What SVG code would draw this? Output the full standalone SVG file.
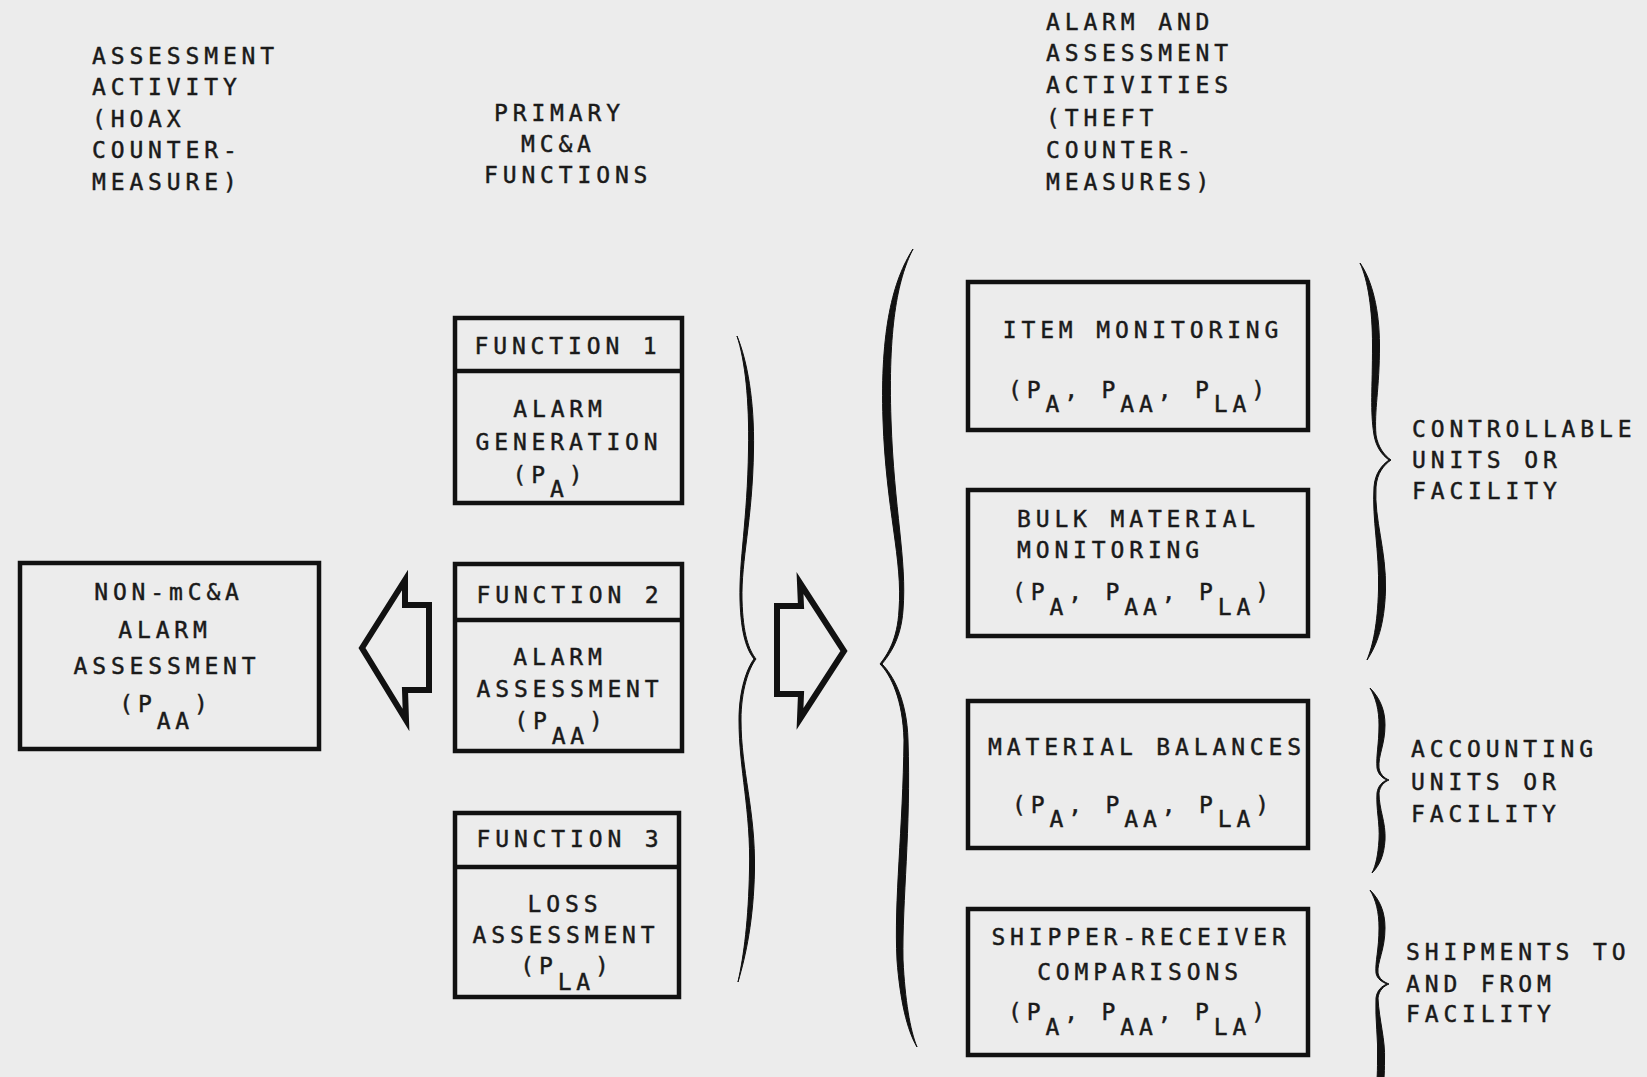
<svg xmlns="http://www.w3.org/2000/svg" width="1647" height="1077" viewBox="0 0 1647 1077">
<style>
.t{font-family:"DejaVu Sans Mono","Liberation Mono",monospace;font-size:23px;letter-spacing:4.85px;fill:#1a1a1a;stroke:#1a1a1a;stroke-width:0.45}
.m{text-anchor:middle}
.box{fill:none;stroke:#111;stroke-width:4.5}
.brace{fill:#111;stroke:#111;stroke-width:1}
.arrow{fill:none;stroke:#111;stroke-width:6;stroke-linejoin:miter;stroke-miterlimit:10}
</style>
<rect x="0" y="0" width="1647" height="1077" fill="#ececec"/>

<g id="header-left">
<text class="t" x="92" y="64">ASSESSMENT</text>
<text class="t" x="92" y="95">ACTIVITY</text>
<text class="t" x="92" y="127">(HOAX</text>
<text class="t" x="92" y="158">COUNTER-</text>
<text class="t" x="92" y="190">MEASURE)</text>
</g>
<g id="header-middle">
<text class="t" x="494" y="121">PRIMARY</text>
<text class="t" x="521" y="152">MC&amp;A</text>
<text class="t" x="484" y="183">FUNCTIONS</text>
</g>
<g id="header-right">
<text class="t" x="1046" y="30">ALARM AND</text>
<text class="t" x="1046" y="61">ASSESSMENT</text>
<text class="t" x="1046" y="93">ACTIVITIES</text>
<text class="t" x="1046" y="126">(THEFT</text>
<text class="t" x="1046" y="158">COUNTER-</text>
<text class="t" x="1046" y="190">MEASURES)</text>
</g>

<g id="non-mca">
<rect class="box" x="20" y="563" width="299" height="186"/>
<text class="t m" x="169" y="600">NON-mC&amp;A</text>
<text class="t m" x="165" y="638">ALARM</text>
<text class="t m" x="167" y="674">ASSESSMENT</text>
<text class="t m" x="166" y="712">(P<tspan dy="17">AA</tspan><tspan dy="-17">)</tspan></text>
</g>

<g id="function-1">
<rect class="box" x="455" y="318" width="227" height="185"/>
<line class="box" x1="455" y1="371" x2="682" y2="371"/>
<text class="t m" x="568" y="354">FUNCTION 1</text>
<text class="t m" x="560" y="417">ALARM</text>
<text class="t m" x="569" y="450">GENERATION</text>
<text class="t m" x="550" y="483">(P<tspan dy="14">A</tspan><tspan dy="-14">)</tspan></text>
</g>

<g id="function-2">
<rect class="box" x="455" y="564" width="227" height="187"/>
<line class="box" x1="455" y1="620" x2="682" y2="620"/>
<text class="t m" x="570" y="603">FUNCTION 2</text>
<text class="t m" x="560" y="665">ALARM</text>
<text class="t m" x="570" y="697">ASSESSMENT</text>
<text class="t m" x="561" y="729">(P<tspan dy="15">AA</tspan><tspan dy="-15">)</tspan></text>
</g>

<g id="function-3">
<rect class="box" x="455" y="813" width="224" height="184"/>
<line class="box" x1="455" y1="867" x2="679" y2="867"/>
<text class="t m" x="570" y="847">FUNCTION 3</text>
<text class="t m" x="565" y="912">LOSS</text>
<text class="t m" x="566" y="943">ASSESSMENT</text>
<text class="t m" x="567" y="974">(P<tspan dy="16">LA</tspan><tspan dy="-16">)</tspan></text>
</g>

<g id="item-monitoring">
<rect class="box" x="968" y="282" width="340" height="148"/>
<text class="t m" x="1143" y="338">ITEM MONITORING</text>
<text class="t m" x="1139" y="398">(P<tspan dy="14">A</tspan><tspan dy="-14">,</tspan> P<tspan dy="14">AA</tspan><tspan dy="-14">,</tspan> P<tspan dy="14">LA</tspan><tspan dy="-14">)</tspan></text>
</g>

<g id="bulk-material-monitoring">
<rect class="box" x="968" y="490" width="340" height="146"/>
<text class="t" x="1017" y="527">BULK MATERIAL</text>
<text class="t" x="1017" y="558">MONITORING</text>
<text class="t m" x="1143" y="600">(P<tspan dy="15">A</tspan><tspan dy="-15">,</tspan> P<tspan dy="15">AA</tspan><tspan dy="-15">,</tspan> P<tspan dy="15">LA</tspan><tspan dy="-15">)</tspan></text>
</g>

<g id="material-balances">
<rect class="box" x="968" y="701" width="340" height="147"/>
<text class="t m" x="1147" y="755">MATERIAL BALANCES</text>
<text class="t m" x="1143" y="813">(P<tspan dy="14">A</tspan><tspan dy="-14">,</tspan> P<tspan dy="14">AA</tspan><tspan dy="-14">,</tspan> P<tspan dy="14">LA</tspan><tspan dy="-14">)</tspan></text>
</g>

<g id="shipper-receiver">
<rect class="box" x="968" y="909" width="340" height="146"/>
<text class="t m" x="1141" y="945">SHIPPER-RECEIVER</text>
<text class="t m" x="1140" y="980">COMPARISONS</text>
<text class="t m" x="1139" y="1020">(P<tspan dy="15">A</tspan><tspan dy="-15">,</tspan> P<tspan dy="15">AA</tspan><tspan dy="-15">,</tspan> P<tspan dy="15">LA</tspan><tspan dy="-15">)</tspan></text>
</g>

<g id="label-controllable">
<text class="t" x="1412" y="437">CONTROLLABLE</text>
<text class="t" x="1412" y="468">UNITS OR</text>
<text class="t" x="1412" y="499">FACILITY</text>
</g>
<g id="label-accounting">
<text class="t" x="1411" y="757">ACCOUNTING</text>
<text class="t" x="1411" y="790">UNITS OR</text>
<text class="t" x="1411" y="822">FACILITY</text>
</g>
<g id="label-shipments">
<text class="t" x="1406" y="960">SHIPMENTS TO</text>
<text class="t" x="1406" y="992">AND FROM</text>
<text class="t" x="1406" y="1022">FACILITY</text>
</g>

<g id="connectors">
<polygon class="arrow" points="362,648 405,580 405,605 429,605 429,690 405,690 406,720"/>
<polygon class="arrow" points="777,606 801,606 800,583 844,651 800,719 801,694 777,694"/>
<path class="brace" d="M737,336 C745,360 749.5,400 748.5,450 C747.5,520 739,560 740,600 C741,635 747,650 754,659 C747,668 739,690 739,720 C739,770 751,810 749.5,870 C748.5,920 744,955 738,982 C746,955 753.5,920 754.5,870 C755.5,810 741,770 741,720 C741,690 749,668 756,659 C749,650 743,635 742,600 C741,560 752.5,520 753.5,450 C754.5,400 747,360 737,336 Z"/>
<path class="brace" d="M913,249 C893,280 880,330 883,420 C886,510 903,560 899,610 C897.5,640 887,655 880,664 C891,675 903,700 904,740 C903,830 894,900 897,960 C900,1000 907,1030 917,1047 C910,1030 905,1000 903,960 C902,900 911,830 908,740 C907,700 893,675 882,664 C889,655 901,640 903,610 C907,560 894,510 891,420 C888,330 897,280 913,249 Z"/>
<path class="brace" d="M1360,263 C1368,280 1372.5,310 1372.5,345 C1372.5,390 1370,410 1374,435 C1376,447 1382,455 1389,460 C1382,465 1375,473 1374,487 C1372,520 1379.5,550 1378.5,590 C1377.5,625 1373,645 1367,660 C1377,645 1384.5,625 1385.5,590 C1386.5,550 1374,520 1376,487 C1377,473 1384,465 1391,460 C1384,455 1378,447 1376,435 C1374,410 1379.5,390 1379.5,345 C1379.5,310 1372,280 1360,263 Z"/>
<path class="brace" d="M1370,688 C1376,698 1379,710 1379,725 C1379,745 1376,755 1377,768 C1378,774 1382,778 1387,780 C1382,782 1378,786 1377,793 C1376,810 1380,822 1379,840 C1378,855 1376,865 1372,873 C1380,865 1384,855 1385,840 C1386,822 1379,810 1379,793 C1380,786 1384,782 1389,780 C1384,778 1380,774 1379,768 C1378,755 1385,745 1385,725 C1385,710 1380,698 1370,688 Z"/>
<path class="brace" d="M1370,890 C1376,900 1379,912 1379,928 C1379,950 1375,962 1376,973 C1377,979 1382,982 1387,984 C1382,986 1377,990 1376,998 C1375,1020 1378.5,1040 1377.5,1060 C1377.5,1075 1377,1085 1375,1095 L1381,1095 C1384,1085 1384.5,1075 1384.5,1060 C1385.5,1040 1379,1020 1378,998 C1379,990 1384,986 1389,984 C1384,982 1379,979 1378,973 C1377,962 1385,950 1385,928 C1385,912 1380,900 1370,890 Z"/>
</g>
</svg>
